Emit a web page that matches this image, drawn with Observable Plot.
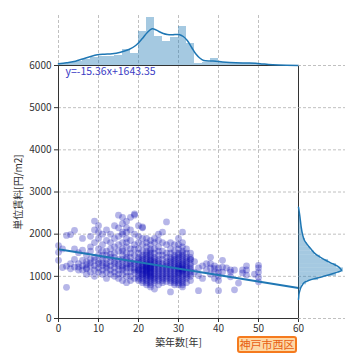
<!DOCTYPE html>
<html>
<head>
<meta charset="utf-8">
<script src="https://cdn.jsdelivr.net/npm/d3@7"></script>
<script src="https://cdn.jsdelivr.net/npm/@observablehq/plot@0.6"></script>
<style>
  body { margin: 0; background: #fff; }
  #wrap { position: relative; width: 360px; height: 360px; font-family: "Noto Sans CJK JP", "Noto Sans", sans-serif; }
  #wrap svg { position: absolute; left: 0; top: 0; }
  #tag { position: absolute; left: 237px; top: 336px; box-sizing: border-box; width: 60px; height: 17px; border: 2px solid #f57a1e; border-radius: 3px;
         background: #fdd9a6; color: #e85e12; font-size: 11px; line-height: 13px; text-align: center; white-space: nowrap; padding: 0; overflow: visible; }
</style>
</head>
<body>
<div id="wrap"></div>
<script>
// ---- data ----
const xTicks = [0, 10, 20, 30, 40, 50, 60];
const yTicks = [0, 1000, 2000, 3000, 4000, 5000, 6000];
const xLabel = "築年数[年]";
const yLabel = "単位賃料[円/m2]";
const areaName = "神戸市西区";
const slope = -15.36;
const intercept = 1643.35;

// scatter: building age (years) and, per age, the unit rents
const pointYears = [0,1,2,3,4,5,6,7,8,9,10,11,12,13,14,15,16,17,18,19,20,21,22,23,24,25,26,27,28,29,30,31,32,33,34,35,36,37,38,39,40,41,42,43,44,45,46,47,49,50];
const pointRents = [
  [1730,1570,1380],
  [1210,1650],
  [1970,740,1240],
  [1990,1300,1180],
  [2090,1650,1220,1400],
  [1300,1220,1560,1150],
  [1380,1250,1150,1620,1900],
  [1200,1350,1500,1280,1050,1180],
  [1250,1400,1700,1100,1600,1320,1950],
  [2310,2100,1800,1450,1250,1150,1000,1380],
  [2200,2050,1900,1500,1350,1200,1100,1300,1650],
  [2000,1750,1600,1400,1250,1150,1050,1500,1320],
  [2100,1850,1500,1300,1200,1100,950,1400,1600,1250],
  [2000,1650,1450,1250,1150,1050,1350,1520,1800],
  [2200,1900,1700,1450,1300,1200,1000,1100,1550,1350],
  [2450,2150,1950,1600,1400,1250,1150,1050,950,1750,1300],
  [2400,2250,2050,1800,1650,1500,1350,1250,1150,1050,900,1400,1200,1600,2000],
  [2300,2150,1900,1700,1550,1400,1300,1200,1100,1000,850,1250,1450,1800,2050],
  [2400,2100,1850,1650,1450,1300,1200,1100,1000,900,1350,1550,1250],
  [2480,2450,2000,1750,1500,1350,1200,1100,950,1300,1650,1150],
  [2200,1950,1800,1650,1550,1450,1350,1300,1250,1200,1150,1100,1050,1000,950,900,1400,1150],
  [2170,2150,1900,1750,1600,1500,1450,1400,1350,1300,1250,1200,1150,1100,1050,1000,950,900,850,1250,1150,1050],
  [1900,1800,1700,1600,1550,1500,1450,1400,1350,1300,1280,1250,1220,1200,1180,1150,1120,1100,1080,1050,1020,1000,950,900,850,800,1250,1150],
  [1850,1750,1650,1600,1550,1500,1450,1400,1380,1350,1300,1280,1250,1220,1200,1180,1150,1120,1100,1080,1050,1020,1000,980,950,900,850,800,750,1200],
  [1900,1800,1650,1550,1450,1400,1350,1300,1250,1200,1150,1100,1050,1000,950,900,850,700],
  [2000,1850,1700,1600,1500,1400,1350,1300,1250,1200,1150,1100,1050,1000,950,900,800],
  [2050,1800,1600,1500,1400,1300,1250,1200,1150,1100,1050,1000,950,900,850],
  [2290,1750,1550,1450,1350,1300,1250,1200,1150,1100,1050,1000,950,880],
  [1800,1650,1550,1450,1400,1350,1300,1250,1200,1150,1100,1050,1000,950,900,850,630],
  [1750,1600,1500,1450,1400,1350,1300,1250,1200,1150,1100,1050,1000,950,900,850,800],
  [1900,1750,1650,1550,1500,1450,1400,1350,1300,1250,1200,1180,1150,1100,1080,1050,1000,950,900,850,800,1250],
  [2050,1800,1700,1600,1550,1500,1450,1400,1350,1300,1280,1250,1200,1180,1150,1120,1100,1050,1000,950,900,850,800,750,1150],
  [1650,1550,1450,1400,1350,1300,1250,1200,1150,1100,1050,1000,950,850],
  [1550,1450,1400,1300,1250,1200,1150,1100,1050,1000,900,1400],
  [1100,1350],
  [1020,660,1200],
  [1250,950],
  [1150,1300],
  [1450,1200,1050,1300],
  [1180,1100,1250,950],
  [1100,1000,900,660,1200],
  [1380,1220,1100],
  [1200],
  [1150,990,1100],
  [680,1150],
  [840],
  [1080,1150],
  [1150,1030,1250],
  [1050],
  [1260,1100,980,870,1200]
];

// top marginal: age histogram (2-year bins from 0) and density curve, relative heights
const ageBinWidth = 2;
const ageHist = [2,3,4,6,8,9,9,10,16,12, 34,48,29,24,28,39,22,2,3,7, 3,2,2,2,2,1,0,0,0,0];
const ageKdeX = [0,2,4.25,6,8,9.7,11.5,13.4,15.5,17.6,19.3,20.9,22.2,23.4,24.3,25.1,26.2,27.2,28.5,30.1,31.2,32.2,33.3,34.3,35.3,36.3,38,39.3,41,44.3,47,49.3,51,52.5,55,60];
const ageKdeY = [1.7,2.8,4.3,6.5,9,10.7,11.3,11.7,13.3,16,20,26.7,33,36.7,35.8,34,32,31,30.8,31,29,25,18,11.7,7.5,5,4.5,4.3,3.6,2.7,2.5,2.3,1.6,1,0.5,0];

// right marginal: rent histogram (100-yen bins from 500) and density curve, relative widths
const rentBinStart = 500;
const rentBinWidth = 100;
const rentHist = [0,1,3,8,20,38,45,38,30,22,16,12,9,7,5,4,3,2,2,1];
const rentKdeY = [450,500,585,650,740,800,860,900,940,980,1020,1060,1100,1140,1180,1240,1300,1370,1450,1550,1690,1850,2000,2200,2400,2640];
const rentKdeX = [0,0.2,0.5,1.2,2.5,4,6,10,15,22,28,34,39,43,42,39,34,28,22,16,11,6,4,2.5,1.5,0];

// ---- build tables ----
const points = pointYears.flatMap((yr, i) => pointRents[i].map(v => ({age: yr, rent: v})));
const regLine = [xTicks[0], xTicks[xTicks.length - 1]].map(x => ({x, y: intercept + slope * x}));
const ageBars = ageHist.map((h, i) => ({x1: i * ageBinWidth, x2: (i + 1) * ageBinWidth, h}));
const ageKde = ageKdeX.map((x, i) => ({x, h: ageKdeY[i]}));
const rentBars = rentHist.map((w, i) => ({y1: rentBinStart + i * rentBinWidth, y2: rentBinStart + (i + 1) * rentBinWidth, w}));
const rentKde = rentKdeY.map((y, i) => ({y, w: rentKdeX[i]}));

const W = 360, H = 360;
const M = {left: 58, right: 62, top: 65, bottom: 42};
const font = {fontFamily: '"Noto Sans CJK JP", "Noto Sans", sans-serif', fontSize: "10px", color: "#333", background: "transparent", overflow: "visible"};
const grid = {stroke: "#b0b0b0", strokeOpacity: 1, strokeDasharray: "3,2", strokeWidth: 0.8};
const blue = "#1f77b4";

const mainChart = Plot.plot({
  width: W, height: H,
  marginLeft: M.left, marginRight: M.right, marginTop: M.top, marginBottom: M.bottom,
  style: font,
  x: {domain: [0, 60]},
  y: {domain: [0, 6000]},
  marks: [
    Plot.gridX(xTicks, grid),
    Plot.gridY(yTicks, grid),
    Plot.dot(points, {x: "age", y: "rent", r: 3.4, fill: "#0c0cb4", fillOpacity: 0.3, stroke: null}),
    Plot.line(regLine, {x: "x", y: "y", stroke: blue, strokeWidth: 2}),
    Plot.axisX({ticks: xTicks, tickSize: 4, tickPadding: 2, tickFormat: d => String(d), label: xLabel, labelAnchor: "center", labelArrow: "none", labelOffset: 27, fontSize: 10}),
    Plot.axisY({ticks: yTicks, tickSize: 4, tickPadding: 3, tickFormat: d => String(d), label: yLabel, labelAnchor: "center", labelArrow: "none", labelOffset: 44, fontSize: 10}),
    Plot.frame({stroke: "#333", strokeWidth: 1}),
    Plot.text([`y=${slope}x+${intercept}`], {frameAnchor: "top-left", dx: 7, dy: 2, fill: "#3b3bc4", fontSize: 10.5, textAnchor: "start", lineAnchor: "top"})
  ]
});

const topChart = Plot.plot({
  width: W, height: H,
  marginLeft: M.left, marginRight: M.right, marginTop: 15, marginBottom: H - M.top,
  style: font,
  x: {domain: [0, 60], axis: null},
  y: {domain: [0, 50], axis: null},
  marks: [
    Plot.ruleX(xTicks.slice(0, -1), grid),
    Plot.rectY(ageBars, {x1: "x1", x2: "x2", y: "h", fill: blue, fillOpacity: 0.4, inset: 0}),
    Plot.line(ageKde, {x: "x", y: "h", stroke: blue, strokeWidth: 1.5, curve: "catmull-rom"})
  ]
});

const rightChart = Plot.plot({
  width: W, height: H,
  marginLeft: W - M.right, marginRight: 15, marginTop: M.top, marginBottom: M.bottom,
  style: font,
  x: {domain: [0, 47], axis: null},
  y: {domain: [0, 6000], axis: null},
  marks: [
    Plot.ruleY(yTicks, grid),
    Plot.rectX(rentBars, {y1: "y1", y2: "y2", x: "w", fill: blue, fillOpacity: 0.4, inset: 0}),
    Plot.line(rentKde, {x: "w", y: "y", stroke: blue, strokeWidth: 1.5, curve: "catmull-rom"})
  ]
});

const wrap = document.getElementById("wrap");
wrap.append(mainChart, topChart, rightChart);
const tag = document.createElement("div");
tag.id = "tag";
tag.textContent = areaName;
wrap.append(tag);
</script>
</body>
</html>
